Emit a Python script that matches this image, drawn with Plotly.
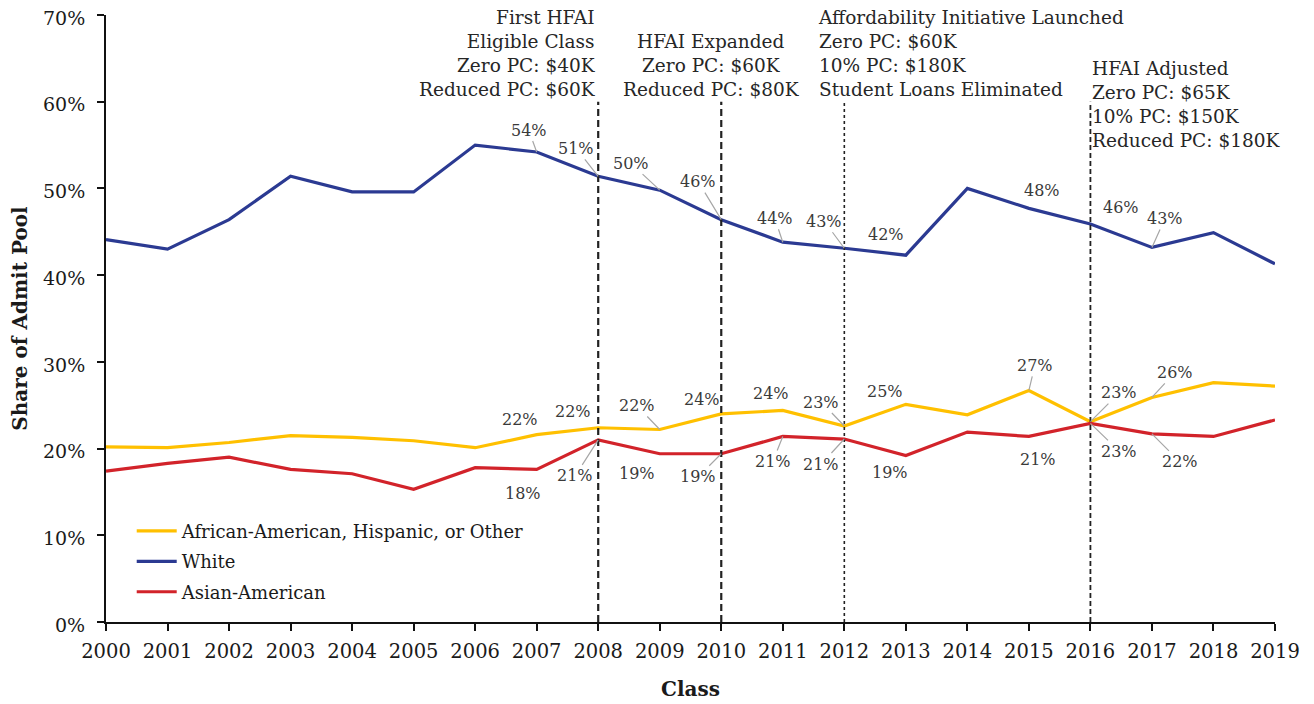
import plotly.graph_objects as go

# ---------------- data ----------------
years = list(range(2000, 2020))
series_names = ["African-American, Hispanic, or Other", "White", "Asian-American"]
urm = [20.2, 20.1, 20.7, 21.5, 21.3, 20.9, 20.1, 21.6, 22.4, 22.2, 24.0, 24.4, 22.6, 25.1, 23.9, 26.7, 23.1, 25.9, 27.6, 27.2]
white = [44.1, 43.0, 46.4, 51.4, 49.6, 49.6, 55.0, 54.2, 51.4, 49.8, 46.4, 43.8, 43.1, 42.3, 50.0, 47.7, 45.9, 43.2, 44.9, 41.3]
asian = [17.4, 18.3, 19.0, 17.6, 17.1, 15.3, 17.8, 17.6, 21.0, 19.4, 19.4, 21.4, 21.1, 19.2, 21.9, 21.4, 22.9, 21.7, 21.4, 23.3]

y_ticks = [0, 10, 20, 30, 40, 50, 60, 70]

event_years = [2008, 2010, 2012, 2016]
event_texts = [
    "First HFAI<br>Eligible Class<br>Zero PC: $40K<br>Reduced PC: $60K",
    "HFAI Expanded<br>Zero PC: $60K<br>Reduced PC: $80K",
    "Affordability Initiative Launched<br>Zero PC: $60K<br>10% PC: $180K<br>Student Loans Eliminated",
    "HFAI Adjusted<br>Zero PC: $65K<br>10% PC: $150K<br>Reduced PC: $180K",
]

# years that carry a value label, per series
label_years_white = [2007, 2008, 2009, 2010, 2011, 2012, 2013, 2015, 2016, 2017]
label_years_urm = [2007, 2008, 2009, 2010, 2011, 2012, 2013, 2015, 2016, 2017]
label_years_asian = [2007, 2008, 2009, 2010, 2011, 2012, 2013, 2015, 2016, 2017]

# ---------------- styles / label placement (pixel offsets, leader shown?) ----------------
YEL = "#FFC000"
BLU = "#2B3A92"
RED = "#D2232A"
FONT = "DejaVu Serif"

off_white = [(-8, -22, True), (-22, -28, True), (-29, -27, True), (-23, -38, True), (-8, -24, True),
             (-20, -27, True), (-20, -21, False), (13, -18, False), (31, -16, False), (13, -29, True)]
off_urm = [(-17, -15, False), (-25, -16, False), (-23, -24, True), (-19, -14, False), (-12, -17, False),
           (-23, -24, True), (-21, -13, False), (6, -25, True), (29, -29, True), (23, -25, True)]
off_asian = [(-14, 24, False), (-23, 36, True), (-23, 20, False), (-23, 23, True), (-10, 25, True),
             (-23, 25, True), (-16, 17, False), (9, 23, False), (29, 28, True), (28, 28, True)]

event_style = [
    dict(xanchor="right", align="right", xshift=0, y=60),
    dict(xanchor="center", align="center", xshift=-10, y=60),
    dict(xanchor="left", align="left", xshift=-28, y=60),
    dict(xanchor="left", align="left", xshift=0, y=54.1),
]
event_dash = [("7px,4px", 2.2), ("7px,4px", 2.2), ("3px,3px", 1.6), ("5px,3px", 1.8)]

fig = go.Figure()
for name, vals, col in zip(series_names, [urm, white, asian], [YEL, BLU, RED]):
    fig.add_trace(go.Scatter(x=years, y=vals, mode="lines", name=name, legendgroup=name,
                             line=dict(color=col, width=3.2)))

# vertical event lines
for yr, (dash, w) in zip(event_years, event_dash):
    fig.add_shape(type="line", xref="x", yref="y", x0=yr, x1=yr, y0=0, y1=60,
                  line=dict(color="#222222", width=w, dash=dash))

# event texts
for yr, txt, st in zip(event_years, event_texts, event_style):
    fig.add_annotation(x=yr, y=st["y"], xref="x", yref="y", text=txt, showarrow=False,
                       xanchor=st["xanchor"], yanchor="bottom", align=st["align"],
                       xshift=st["xshift"], yshift=0,
                       font=dict(family=FONT, size=18.5, color="#262626"))

# value labels
for vals, lyears, offs in [(white, label_years_white, off_white),
                           (urm, label_years_urm, off_urm),
                           (asian, label_years_asian, off_asian)]:
    for yr, (dx, dy, leader) in zip(lyears, offs):
        v = vals[years.index(yr)]
        fig.add_annotation(x=yr, y=v, xref="x", yref="y", text=f"{v:.0f}%",
                           showarrow=True, arrowhead=0, ax=dx, ay=dy, standoff=0,
                           arrowwidth=1.2,
                           arrowcolor="#A6A6A6" if leader else "rgba(0,0,0,0)",
                           font=dict(family=FONT, size=16, color="#3A3A3A"))

fig.update_layout(
    width=1306, height=696, autosize=False,
    paper_bgcolor="white", plot_bgcolor="white",
    margin=dict(l=98, r=39, t=7, b=82, autoexpand=False),
    font=dict(family=FONT, color="#1a1a1a"),
    showlegend=True,
    legend=dict(x=0.022, y=0.18, xanchor="left", yanchor="top", traceorder="grouped",
                tracegroupgap=4, itemwidth=40,
                font=dict(family=FONT, size=18, color="#1a1a1a"),
                bgcolor="rgba(0,0,0,0)"),
    xaxis=dict(range=[2000, 2019], tickmode="array", tickvals=years, ticktext=[str(y) for y in years],
               showgrid=False, zeroline=False, showline=True, linecolor="#111111", linewidth=2,
               ticks="outside", ticklen=7, tickwidth=1.5, tickcolor="#111111",
               tickfont=dict(family=FONT, size=19.5, color="#1a1a1a"), ticklabelstandoff=4,
               ticklabeloverflow="allow", automargin=False,
               title=dict(text="<b>Class</b>", font=dict(family=FONT, size=20, color="#1a1a1a"), standoff=20)),
    yaxis=dict(range=[0, 70], tickmode="array", tickvals=y_ticks, ticktext=[f"{t}%" for t in y_ticks],
               showgrid=False, zeroline=False, showline=True, linecolor="#111111", linewidth=2,
               ticks="outside", ticklen=7, tickwidth=1.5, tickcolor="#111111",
               tickfont=dict(family=FONT, size=19, color="#1a1a1a"), ticklabelstandoff=8,
               ticklabelshift=3,
               ticklabeloverflow="allow", automargin=False,
               title=dict(text="<b>Share of Admit Pool</b>", font=dict(family=FONT, size=20, color="#1a1a1a"), standoff=10)),
)

fig.write_html("out.html")
